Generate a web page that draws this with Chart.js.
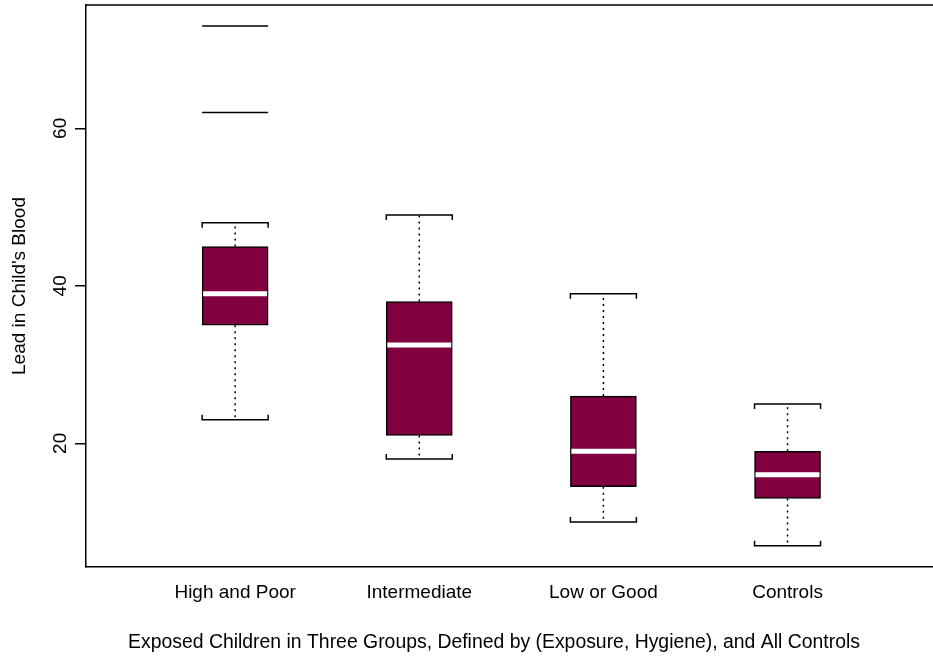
<!DOCTYPE html>
<html>
<head>
<meta charset="utf-8">
<title>Lead in Child's Blood</title>
<script src="https://cdn.jsdelivr.net/npm/chart.js@4.4.1/dist/chart.umd.min.js"></script>
<style>
  html, body { margin: 0; padding: 0; background: #fff; }
  #wrap { width: 933px; height: 659px; position: relative; }
</style>
</head>
<body>
<div id="wrap"><canvas id="leadChart"></canvas></div>
<script>
const categories = ["High and Poor", "Intermediate", "Low or Good", "Controls"];
const whiskerLow = [23, 18, 10, 7];
const lowerQuartile = [35, 21, 14.5, 13];
const medians = [39, 32.5, 19, 16];
const upperQuartile = [45, 38, 26, 19];
const whiskerHigh = [48, 49, 39, 25];
const outliers = [[62, 73], [], [], []];
const yTicks = [20, 40, 60];

const xTitle = "Exposed Children in Three Groups, Defined by (Exposure, Hygiene), and All Controls";

const positions = categories.map((c, i) => i + 1);

const boxHalf = 33;
const fillColor = "#800040";
const fontFamily = "'Liberation Sans', Arial, Helvetica, sans-serif";

Chart.defaults.font.family = fontFamily;
Chart.defaults.font.size = 19;
Chart.defaults.color = "#000";

// whiskers (dotted) with stapled caps, top side of the frame, x title
const whiskerPlugin = {
  id: "whiskers",
  afterDatasetsDraw(chart) {
    const ctx = chart.ctx;
    const xs = chart.scales.x;
    const ys = chart.scales.y;
    ctx.save();
    ctx.strokeStyle = "#000";
    positions.forEach((p, i) => {
      const cx = xs.getPixelForValue(p);
      const lo = ys.getPixelForValue(whiskerLow[i]);
      const hi = ys.getPixelForValue(whiskerHigh[i]);
      const q1 = ys.getPixelForValue(lowerQuartile[i]);
      const q3 = ys.getPixelForValue(upperQuartile[i]);

      ctx.lineWidth = 1.5;
      ctx.setLineDash([2, 4]);
      ctx.beginPath();
      ctx.moveTo(cx, q3);
      ctx.lineTo(cx, hi);
      ctx.moveTo(cx, q1);
      ctx.lineTo(cx, lo);
      ctx.stroke();

      ctx.setLineDash([]);
      ctx.beginPath();
      // upper cap, ends turned down toward the box
      ctx.moveTo(cx - boxHalf, hi + 5);
      ctx.lineTo(cx - boxHalf, hi);
      ctx.lineTo(cx + boxHalf, hi);
      ctx.lineTo(cx + boxHalf, hi + 5);
      // lower cap, ends turned up
      ctx.moveTo(cx - boxHalf, lo - 5);
      ctx.lineTo(cx - boxHalf, lo);
      ctx.lineTo(cx + boxHalf, lo);
      ctx.lineTo(cx + boxHalf, lo - 5);
      ctx.stroke();
    });

    const area = chart.chartArea;
    ctx.lineWidth = 1.5;
    ctx.beginPath();
    ctx.moveTo(area.left, area.top);
    ctx.lineTo(area.right + 2, area.top);
    ctx.stroke();

    ctx.fillStyle = "#000";
    ctx.font = "19.4px " + fontFamily;
    ctx.textAlign = "center";
    ctx.textBaseline = "middle";
    ctx.fillText(xTitle, 494, 643);
    ctx.restore();
  }
};

const ctx = document.getElementById("leadChart").getContext("2d");

new Chart(ctx, {
  type: "bar",
  data: {
    datasets: [
      {
        label: "boxes",
        data: positions.map((p, i) => ({ x: p, y: [lowerQuartile[i], upperQuartile[i]] })),
        backgroundColor: fillColor,
        borderColor: "#000",
        borderWidth: 1.5,
        borderSkipped: false,
        barThickness: boxHalf * 2,
        order: 3
      },
      {
        type: "scatter",
        label: "medians",
        data: positions.map((p, i) => ({ x: p, y: medians[i] })),
        pointStyle: "line",
        pointRadius: boxHalf - 1,
        borderColor: "#fff",
        borderWidth: 5,
        order: 1
      },
      {
        type: "scatter",
        label: "outliers",
        data: outliers.flatMap((vals, i) => vals.map(v => ({ x: positions[i], y: v }))),
        pointStyle: "line",
        pointRadius: boxHalf,
        borderColor: "#000",
        borderWidth: 1.5,
        order: 1
      }
    ]
  },
  options: {
    responsive: true,
    maintainAspectRatio: false,
    animation: false,
    layout: { autoPadding: false, padding: { top: 5, right: 0, left: 0, bottom: 0 } },
    plugins: {
      legend: { display: false },
      tooltip: { enabled: false }
    },
    scales: {
      x: {
        type: "linear",
        min: 0.19,
        max: 4.79,
        offset: false,
        grid: { display: false },
        border: { display: true, color: "#000", width: 1.5 },
        afterBuildTicks: scale => { scale.ticks = positions.map(v => ({ value: v })); },
        afterFit: scale => {
          scale.height = 92;
          scale.paddingLeft = 0;
          scale.paddingRight = 0;
        },
        ticks: {
          padding: 6,
          maxRotation: 0,
          autoSkip: false,
          callback: value => categories[value - 1]
        }
      },
      y: {
        type: "linear",
        min: 4.3,
        max: 75.66,
        grid: {
          display: true,
          drawOnChartArea: false,
          drawTicks: true,
          tickLength: 11,
          color: "#000",
          lineWidth: 1.5
        },
        border: { display: true, color: "#000", width: 1.5 },
        afterBuildTicks: scale => { scale.ticks = yTicks.map(v => ({ value: v })); },
        afterFit: scale => {
          scale.width = 86;
          scale.paddingTop = 0;
          scale.paddingBottom = 0;
        },
        ticks: {
          minRotation: 90,
          maxRotation: 90,
          crossAlign: "center",
          padding: 4
        },
        title: {
          display: true,
          text: "Lead in Child's Blood",
          padding: { top: 8, bottom: 0 }
        }
      }
    }
  },
  plugins: [whiskerPlugin]
});
</script>
</body>
</html>
